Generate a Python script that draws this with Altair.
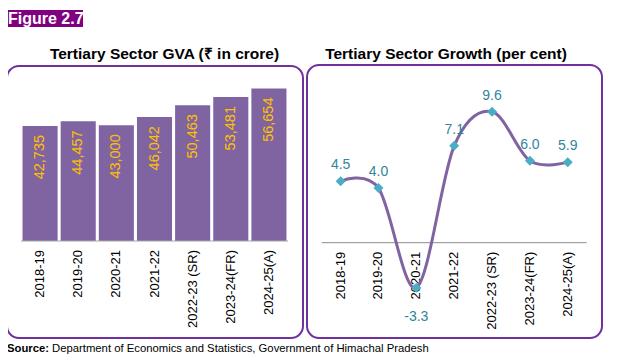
import altair as alt
import pandas as pd

years = ["2018-19", "2019-20", "2020-21", "2021-22", "2022-23 (SR)", "2023-24(FR)", "2024-25(A)"]
gva = [42735, 44457, 43000, 46042, 50463, 53481, 56654]
growth = [4.5, 4.0, -3.3, 7.1, 9.6, 6.0, 5.9]

FONT = "Liberation Sans"
BAR = "#8064A2"
BOX = "#7030A0"
MARK = "#4BACC6"
LBL = "#31859C"

df = pd.DataFrame({
    "year": years,
    "gva": gva,
    "growth": growth,
    "glabel": [f"{v:.1f}" for v in growth],
    "zero": [0] * len(years),
})
df_pos = df[df["growth"] >= 0]
df_neg = df[df["growth"] < 0]
one = pd.DataFrame({"zero": [0]})

# left panel scales
xl = alt.X("year:N", sort=years, axis=None,
           scale=alt.Scale(domain=years, range=[13, 280], paddingInner=0.08, paddingOuter=0.04))
yl_scale = alt.Scale(domain=[0, 60000], range=[233, 71.5], nice=False, zero=True)
yl = alt.Y("gva:Q", axis=None, scale=yl_scale)
yl0 = alt.Y("zero:Q", axis=None, scale=yl_scale)

# right panel scales
xr = alt.X("year:N", sort=years, axis=None,
           scale=alt.Scale(type="point", domain=years, range=[313.7, 578.7], padding=0.5))
yr_scale = alt.Scale(domain=[-4, 12], range=[289.3, 70.9], nice=False, zero=False)
yr = alt.Y("growth:Q", axis=None, scale=yr_scale)
yr0 = alt.Y("zero:Q", axis=None, scale=yr_scale)

base = alt.Chart(df)

# decorations
box_left = alt.Chart(one).mark_rect(fillOpacity=0, stroke=BOX, strokeWidth=2, cornerRadius=12).encode(
    x=alt.value(-1), x2=alt.value(295), y=alt.value(58), y2=alt.value(330))
box_right = alt.Chart(one).mark_rect(fillOpacity=0, stroke=BOX, strokeWidth=2, cornerRadius=12).encode(
    x=alt.value(299), x2=alt.value(594), y=alt.value(57), y2=alt.value(330))
fig_bg = alt.Chart(one).mark_rect(color="#800080").encode(
    x=alt.value(-1), x2=alt.value(75), y=alt.value(2), y2=alt.value(19))
fig_txt = alt.Chart(one).mark_text(text="Figure 2.7", font=FONT, fontSize=16, fontWeight="bold",
                                   color="white", align="left", baseline="middle").encode(
    x=alt.value(0), y=alt.value(11))
title_l = alt.Chart(one).mark_text(text="Tertiary Sector GVA (₹ in crore)", font=FONT, fontSize=15.5,
                                   fontWeight="bold", color="black", align="center", baseline="middle").encode(
    x=alt.value(156.5), y=alt.value(46))
title_r = alt.Chart(one).mark_text(text="Tertiary Sector Growth (per cent)", font=FONT, fontSize=15.5,
                                   fontWeight="bold", color="black", align="center", baseline="middle").encode(
    x=alt.value(438), y=alt.value(45.5))
src_b = alt.Chart(one).mark_text(text="Source:", font=FONT, fontSize=11.3, fontWeight="bold",
                                 color="black", align="left", baseline="middle").encode(
    x=alt.value(-1), y=alt.value(341))
src_t = alt.Chart(one).mark_text(text="Department of Economics and Statistics, Government of Himachal Pradesh",
                                 font=FONT, fontSize=11.3, color="black", align="left", baseline="middle").encode(
    x=alt.value(44), y=alt.value(341))

# left panel
bars = base.mark_bar(color=BAR).encode(x=xl, y=yl)
bar_lbl = base.mark_text(font=FONT, fontSize=14.5, color="#FFC000", angle=270, align="right",
                         baseline="middle", dx=-9).encode(
    x=xl, y=yl, text=alt.Text("gva:Q", format=",d"))
rule_l = alt.Chart(one).mark_rule(color="#A6A6A6", strokeWidth=1).encode(
    y=yl0, x=alt.value(13), x2=alt.value(280))
xlab_l = base.mark_text(font=FONT, fontSize=13, color="black", angle=270, align="right",
                        baseline="middle", dx=-9).encode(x=xl, y=yl0, text="year:N")

# right panel
rule_r = alt.Chart(one).mark_rule(color="#8C8C8C", strokeWidth=1).encode(
    y=yr0, x=alt.value(313.7), x2=alt.value(578.7))
xlab_r = base.mark_text(font=FONT, fontSize=13, color="black", angle=270, align="right",
                        baseline="middle", dx=-9).encode(x=xr, y=yr0, text="year:N")
line = base.mark_line(interpolate="cardinal", color=BAR, strokeWidth=3).encode(x=xr, y=yr)
pts = base.mark_point(shape="diamond", filled=True, size=100, color=MARK, opacity=1).encode(x=xr, y=yr)
lbl_pos = alt.Chart(df_pos).mark_text(font=FONT, fontSize=14, color=LBL, baseline="alphabetic",
                                      align="center", dy=-12).encode(x=xr, y=yr, text="glabel:N")
lbl_neg = alt.Chart(df_neg).mark_text(font=FONT, fontSize=14, color=LBL, baseline="alphabetic",
                                      align="center", dy=33).encode(x=xr, y=yr, text="glabel:N")

chart = alt.layer(
    box_left, box_right, fig_bg, fig_txt, title_l, title_r, src_b, src_t,
    bars, bar_lbl, rule_l, xlab_l,
    rule_r, xlab_r, line, pts, lbl_pos, lbl_neg,
).resolve_scale(x="independent", y="independent").properties(
    width=601, height=346,
    autosize=alt.AutoSizeParams(type="none"),
    padding=0,
).configure_view(stroke=None)

chart.save("out.html", embed_options={"renderer": "svg", "actions": False})
